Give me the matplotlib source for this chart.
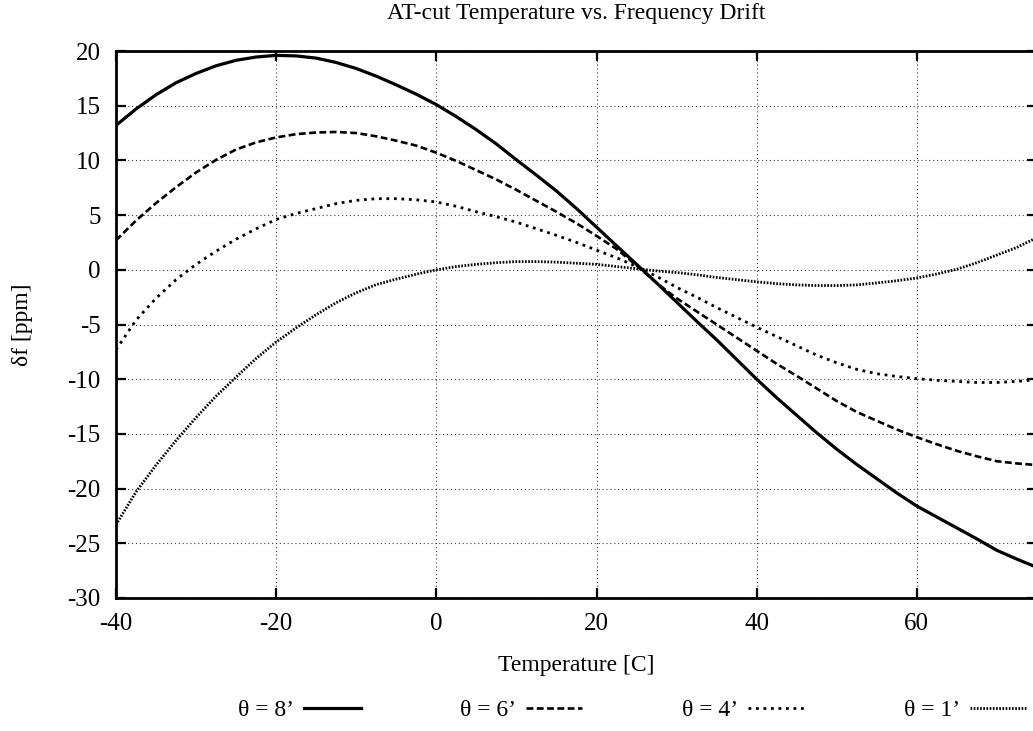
import matplotlib
matplotlib.use('Agg')
import matplotlib.pyplot as plt

# temperature sample points [C]
temp = [-40, -37.5, -35, -32.5, -30, -27.5, -25, -22.5, -20, -17.5, -15, -12.5,
        -10, -7.5, -5, -2.5, 0, 2.5, 5, 7.5, 10, 12.5, 15, 17.5,
        20, 22.5, 25, 27.5, 30, 32.5, 35, 37.5, 40, 42.5, 45, 47.5,
        50, 52.5, 55, 57.5, 60, 62.5, 65, 67.5, 70, 72.5, 75]

# frequency drift [ppm] for each cut angle
df_8 = [13.2, 14.7, 16.0, 17.1, 17.95, 18.65, 19.15, 19.45, 19.6, 19.55, 19.35, 18.95,
        18.4, 17.7, 16.9, 16.05, 15.1, 14.0, 12.8, 11.5, 10.05, 8.65, 7.2, 5.6,
        3.9, 2.2, 0.5, -1.2, -2.95, -4.7, -6.4, -8.2, -10.0, -11.7, -13.3, -14.9,
        -16.4, -17.8, -19.1, -20.4, -21.6, -22.6, -23.6, -24.6, -25.65, -26.45, -27.2]
df_6 = [2.7, 4.5, 6.1, 7.55, 8.9, 10.05, 11.0, 11.65, 12.1, 12.4, 12.55, 12.6,
        12.5, 12.2, 11.8, 11.35, 10.7, 9.95, 9.1, 8.25, 7.3, 6.3, 5.3, 4.25,
        3.1, 1.9, 0.4, -1.2, -2.6, -3.8, -5.0, -6.2, -7.4, -8.6, -9.7, -10.85,
        -12.0, -13.0, -13.8, -14.6, -15.3, -15.95, -16.55, -17.05, -17.5, -17.7, -17.85]
df_4 = [-7.3, -4.6, -2.6, -0.9, 0.5, 1.7, 2.8, 3.75, 4.6, 5.15, 5.6, 6.05,
        6.35, 6.5, 6.5, 6.4, 6.2, 5.8, 5.3, 4.85, 4.35, 3.75, 3.15, 2.5,
        1.8, 1.1, 0.3, -0.6, -1.6, -2.5, -3.45, -4.35, -5.25, -6.1, -6.95, -7.8,
        -8.5, -9.1, -9.5, -9.75, -9.95, -10.1, -10.2, -10.3, -10.3, -10.2, -10.05]
df_1 = [-23.3, -20.3, -17.85, -15.6, -13.5, -11.55, -9.8, -8.1, -6.6, -5.3, -4.1, -3.0,
        -2.1, -1.35, -0.85, -0.4, 0.0, 0.3, 0.5, 0.65, 0.75, 0.75, 0.7, 0.6,
        0.5, 0.3, 0.1, -0.1, -0.25, -0.45, -0.7, -0.9, -1.1, -1.27, -1.38, -1.44,
        -1.44, -1.38, -1.2, -1.0, -0.75, -0.38, 0.05, 0.65, 1.35, 2.05, 2.95]

labels = ['θ = 8’', 'θ = 6’', 'θ = 4’', 'θ = 1’']
xticks = [-40, -20, 0, 20, 40, 60]
yticks = [-30, -25, -20, -15, -10, -5, 0, 5, 10, 15, 20]

plt.rcParams['font.family'] = ['Liberation Serif', 'DejaVu Serif']
plt.rcParams['axes.unicode_minus'] = False

fig = plt.figure(figsize=(10.33, 7.31), dpi=100)
# axes run a little past the right edge, like the cropped original
ax = fig.add_axes([116/1033, 133/731, (1037-116)/1033, (598-51)/731])

# line styles: solid, dashed, dotted, fine dotted
styles = [dict(ls='-', lw=2.3),
          dict(ls=(0, (2.6, 1.3)), lw=1.9),
          dict(ls=(0, (1.0, 1.7)), lw=2.0),
          dict(ls=(0, (0.6, 0.55)), lw=2.0)]
series = [df_8, df_6, df_4, df_1]

for ys, st, lab in zip(series, styles, labels):
    ax.plot(temp, ys, color='black', label=lab, **st)

ax.set_xlim(-40, 75)
ax.set_ylim(-30, 20)
ax.set_xticks(xticks)
ax.set_yticks(yticks)

ax.grid(True, color='0.25', lw=0.8, ls=(0, (1, 2.5)))
ax.tick_params(direction='in', length=7, width=1.6, labelsize=18,
               top=True, right=True, pad=11)
for sp in ax.spines.values():
    sp.set_linewidth(2.0)

ax.set_title('AT-cut Temperature vs. Frequency Drift', fontsize=17, pad=23)
ax.set_xlabel('Temperature [C]', fontsize=17, labelpad=14)
ax.set_ylabel('δf [ppm]', fontsize=17)
ax.yaxis.set_label_coords(-0.09, 0.5)

leg = fig.legend(loc='center', bbox_to_anchor=(0.612, 21/731), ncol=4,
                 frameon=False, markerfirst=False, fontsize=17,
                 handlelength=2.4, handletextpad=0.42, columnspacing=4.2)

fig.savefig('out.png', dpi=100)
